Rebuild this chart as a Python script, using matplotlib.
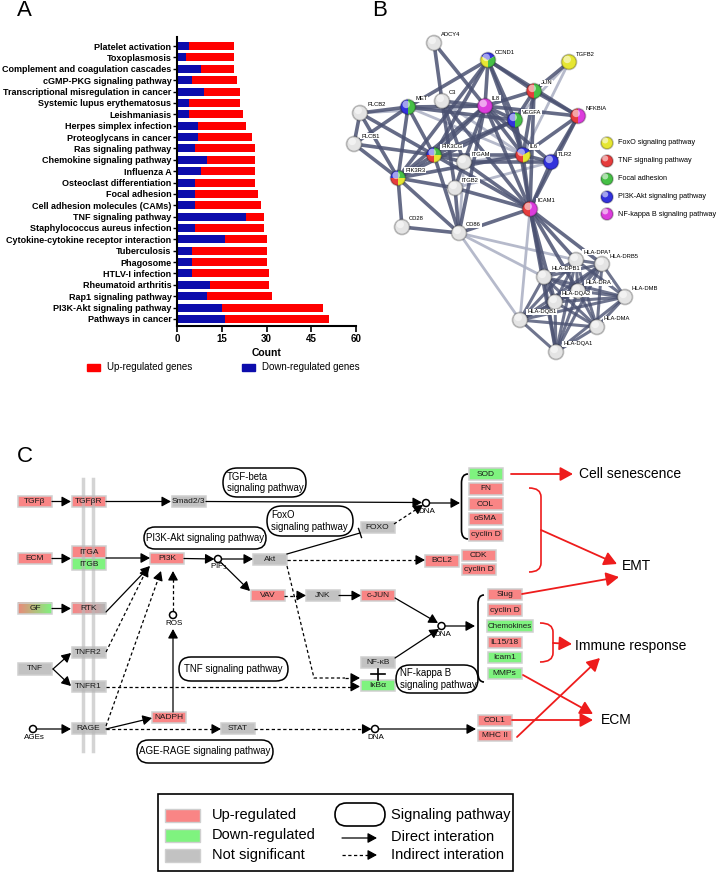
import numpy as np
import matplotlib
matplotlib.use("Agg")
import matplotlib.pyplot as plt
from matplotlib.colors import to_rgb
from matplotlib.patches import (Rectangle, Circle, Wedge, FancyArrowPatch,
                                FancyBboxPatch, PathPatch)
from matplotlib.path import Path
from itertools import combinations

plt.rcParams["font.family"] = ["Liberation Sans", "DejaVu Sans"]

# ---------------- Panel A data (top to bottom) ----------------
pathways = ["Platelet activation", "Toxoplasmosis",
            "Complement and coagulation cascades", "cGMP-PKG signaling pathway",
            "Transcriptional misregulation in cancer", "Systemic lupus erythematosus",
            "Leishmaniasis", "Herpes simplex infection", "Proteoglycans in cancer",
            "Ras signaling pathway", "Chemokine signaling pathway", "Influenza A",
            "Osteoclast differentiation", "Focal adhesion",
            "Cell adhesion molecules (CAMs)", "TNF signaling pathway",
            "Staphylococcus aureus infection", "Cytokine-cytokine receptor interaction",
            "Tuberculosis", "Phagosome", "HTLV-I infection", "Rheumatoid arthritis",
            "Rap1 signaling pathway", "PI3K-Akt signaling pathway", "Pathways in cancer"]
down_genes = [4, 3, 8, 5, 9, 4, 4, 7, 7, 6, 10, 8, 6, 6, 6, 23, 6, 16, 5, 5, 5, 11, 10, 15, 16]
up_genes = [15, 16, 11, 15, 12, 17, 18, 16, 18, 20, 16, 18, 20, 21, 22, 6, 23, 14, 25, 25, 26, 20, 22, 34, 35]
count_ticks = [0, 15, 30, 45, 60]

# ---------------- Panel B data ----------------
YEL, RED, GRN, BLU, MAG = "#e6e632", "#e63c3c", "#46c046", "#3232dc", "#dc3cdc"
net_nodes = {
    "ADCY4": (434, 43, []), "CCND1": (488, 60, [YEL, BLU, GRN]),
    "TGFB2": (569, 62, [YEL]), "JUN": (534, 91, [RED, GRN]),
    "C3": (442, 101, []), "MET": (408, 107, [BLU, GRN]),
    "PLCB2": (360, 113, []), "IL8": (485, 106, [MAG]),
    "VEGFA": (515, 120, [BLU, GRN]), "NFKBIA": (578, 116, [RED, MAG]),
    "PLCB1": (354, 144, []), "PIK3CG": (434, 155, [RED, BLU, GRN, YEL]),
    "ITGAM": (464, 162, []), "IL6": (523, 155, [RED, BLU, YEL]),
    "TLR2": (551, 162, [BLU]), "PIK3R3": (398, 178, [RED, BLU, GRN, YEL]),
    "ITGB2": (455, 188, []), "ICAM1": (530, 209, [RED, MAG]),
    "CD28": (402, 227, []), "CD86": (459, 233, []),
    "HLA-DPA1": (576, 260, []), "HLA-DRB5": (602, 264, []),
    "HLA-DPB1": (544, 277, []), "HLA-DRA": (578, 291, []),
    "HLA-DMB": (625, 297, []), "HLA-DQA2": (555, 302, []),
    "HLA-DQB1": (520, 320, []), "HLA-DMA": (597, 327, []),
    "HLA-DQA1": (556, 352, []),
}
strong_edges = [
    ("ADCY4", "C3"), ("ADCY4", "IL8"), ("CCND1", "MET"), ("CCND1", "JUN"),
    ("CCND1", "IL8"), ("CCND1", "VEGFA"), ("CCND1", "NFKBIA"), ("CCND1", "IL6"),
    ("CCND1", "PIK3CG"), ("CCND1", "PIK3R3"), ("TGFB2", "JUN"), ("JUN", "IL8"),
    ("JUN", "NFKBIA"), ("JUN", "IL6"), ("JUN", "VEGFA"), ("JUN", "ICAM1"),
    ("NFKBIA", "IL8"), ("NFKBIA", "TLR2"), ("NFKBIA", "IL6"), ("NFKBIA", "ICAM1"),
    ("MET", "PIK3CG"), ("MET", "PIK3R3"), ("MET", "VEGFA"), ("MET", "IL8"),
    ("MET", "PLCB1"), ("PLCB2", "PLCB1"), ("PLCB2", "PIK3CG"), ("PLCB2", "PIK3R3"),
    ("PLCB1", "PIK3R3"), ("PLCB1", "PIK3CG"), ("C3", "ITGAM"), ("C3", "ITGB2"),
    ("C3", "IL8"), ("C3", "ICAM1"), ("IL8", "IL6"), ("IL8", "VEGFA"),
    ("IL8", "ICAM1"), ("IL8", "TLR2"), ("IL8", "ITGAM"), ("IL8", "PIK3CG"),
    ("IL8", "CD86"), ("IL8", "PIK3R3"), ("VEGFA", "IL6"), ("VEGFA", "PIK3CG"),
    ("VEGFA", "ICAM1"), ("VEGFA", "PIK3R3"), ("PIK3CG", "PIK3R3"), ("PIK3CG", "ITGAM"),
    ("PIK3CG", "IL6"), ("PIK3CG", "ICAM1"), ("PIK3CG", "CD86"), ("PIK3R3", "CD28"),
    ("PIK3R3", "IL6"), ("PIK3R3", "ITGB2"), ("PIK3R3", "CD86"), ("ITGAM", "ITGB2"),
    ("ITGAM", "ICAM1"), ("ITGAM", "TLR2"), ("ITGB2", "ICAM1"), ("ITGB2", "CD86"),
    ("IL6", "TLR2"), ("IL6", "ICAM1"), ("TLR2", "ICAM1"), ("ICAM1", "CD86"),
    ("ICAM1", "HLA-DPA1"), ("ICAM1", "HLA-DPB1"), ("ICAM1", "HLA-DRA"),
    ("ICAM1", "HLA-DQA1"), ("ICAM1", "HLA-DRB5"), ("ICAM1", "HLA-DQA2"),
    ("CD28", "CD86"), ("MET", "PLCB2"),
]
faint_edges = [("TGFB2", "IL6"), ("TGFB2", "VEGFA"), ("ICAM1", "HLA-DQB1"),
               ("CD86", "HLA-DQB1"), ("CD86", "HLA-DPB1"), ("CD86", "HLA-DPA1"),
               ("PLCB2", "IL8"), ("C3", "IL6"), ("ITGAM", "IL6"), ("CD86", "ITGAM"),
               ("ITGB2", "TLR2"), ("MET", "IL6")]
hla_nodes = ["HLA-DPA1", "HLA-DRB5", "HLA-DPB1", "HLA-DRA", "HLA-DMB",
             "HLA-DQA2", "HLA-DQB1", "HLA-DMA", "HLA-DQA1"]
net_legend = [("FoxO signaling pathway", YEL), ("TNF signaling pathway", RED),
              ("Focal adhesion", GRN), ("PI3K-Akt signaling pathway", BLU),
              ("NF-kappa B signaling pathway", MAG)]

# ---------------- Panel C data ----------------
UP, DOWN, NS = "#f98585", "#7ff37f", "#c2c2c2"
genes = [("TGFβ", 35, 501.5, UP), ("TGFβR", 88.5, 501.5, UP), ("Smad2/3", 188.5, 501.5, NS),
         ("ECM", 35, 558.5, UP), ("ITGA", 88.5, 552, UP), ("ITGB", 88.5, 564, DOWN),
         ("PI3K", 167, 558.5, UP), ("Akt", 270, 559.5, NS), ("VAV", 267.5, 595.5, UP),
         ("JNK", 322.5, 595.5, NS), ("c-JUN", 378, 595.5, UP), ("FOXO", 377.5, 527.5, NS),
         ("BCL2", 441.5, 561, UP), ("CDK", 478.5, 555.5, UP), ("cyclin D", 478.5, 569.5, UP),
         ("SOD", 485.5, 474, DOWN), ("FN", 485.5, 489, UP), ("COL", 485.5, 504, UP),
         ("αSMA", 485.5, 519, UP), ("cyclin D", 485.5, 535, UP),
         ("TNF", 35, 669, NS), ("TNFR2", 88.5, 652.5, NS), ("TNFR1", 88.5, 686.5, NS),
         ("RAGE", 88.5, 728.5, NS), ("NADPH", 169, 717.5, UP), ("STAT", 237.5, 728.5, NS),
         ("NF-κB", 378, 662.5, NS), ("IκBα", 378, 685.5, DOWN),
         ("Slug", 505, 594.5, UP), ("cyclin D", 505, 610, UP), ("IL15/18", 504.5, 642.5, UP),
         ("Icam1", 504.5, 657.5, DOWN), ("MMPs", 504.5, 673.5, DOWN),
         ("COL1", 495, 720.5, UP), ("MHC II", 495, 735.5, UP)]
pathway_labels = [("TGF-beta\nsignaling pathway", 223, 468, 306, 497, "left"),
                  ("PI3K-Akt signaling pathway", 144, 527, 266, 549, "center"),
                  ("FoxO\nsignaling pathway", 267, 506, 353, 536, "left"),
                  ("TNF signaling pathway", 179, 657, 288, 681, "center"),
                  ("NF-kappa B\nsignaling pathway", 396, 665, 478, 693, "left"),
                  ("AGE-RAGE signaling pathway", 137, 740, 273, 763, "center")]
outcomes = [("Cell senescence", 579, 474), ("EMT", 622, 566),
            ("Immune response", 575, 646), ("ECM", 601, 720)]

fig = plt.figure(figsize=(7.17, 8.74), dpi=100)
ax = fig.add_axes([0, 0, 1, 1])
ax.set_xlim(0, 717)
ax.set_ylim(874, 0)
ax.axis("off")

for lab, x, y in [("A", 17, 10), ("B", 372, 10), ("C", 17, 456)]:
    ax.text(x, y, lab, fontsize=16, ha="left", va="center")

# ---------------- Panel A ----------------
axA = fig.add_axes([177 / 717, 1 - 326 / 874, 179 / 717, 289 / 874])
axA.patch.set_alpha(0)
ypos = np.arange(len(pathways))[::-1]
axA.barh(ypos, down_genes, height=0.7, color="#0c0cac")
axA.barh(ypos, up_genes, left=down_genes, height=0.7, color="#ff0000")
axA.set_xlim(0, 60)
axA.set_ylim(-0.62, 24.8)
axA.set_xticks(count_ticks)
axA.set_xticklabels([str(t) for t in count_ticks], fontsize=7, fontweight="bold")
axA.set_yticks(ypos)
axA.set_yticklabels(pathways, fontsize=6.5, fontweight="bold")
axA.tick_params(axis="y", length=3, width=1, pad=1)
axA.tick_params(axis="x", length=4, width=1.2, pad=2)
for s in ["top", "right"]:
    axA.spines[s].set_visible(False)
for s in ["left", "bottom"]:
    axA.spines[s].set_linewidth(1.5)
axA.set_xlabel("Count", fontsize=7.5, fontweight="bold", labelpad=3)

ax.add_patch(Rectangle((87, 364), 13, 7, color="#ff0000"))
ax.text(107, 367.5, "Up-regulated genes", fontsize=7, va="center")
ax.add_patch(Rectangle((242, 364), 13, 7, color="#0c0cac"))
ax.text(262, 367.5, "Down-regulated genes", fontsize=7, va="center")

# ---------------- Panel B ----------------
def edge(a, b, color, lw, alpha):
    xa, ya, _ = net_nodes[a]
    xb, yb, _ = net_nodes[b]
    ax.plot([xa, xb], [ya, yb], color=color, lw=lw, alpha=alpha,
            solid_capstyle="butt", zorder=1)

for a, b in faint_edges:
    edge(a, b, "#aeb3c6", 2.0, 0.9)
for a, b in strong_edges:
    edge(a, b, "#4b5272", 2.6, 0.85)
for a, b in combinations(hla_nodes, 2):
    edge(a, b, "#4b5272", 2.2, 0.8)


def sphere(x, y, cols, r=7.5):
    if not cols:
        ax.add_patch(Circle((x, y), r, fc="#e4e4e4", ec="none", zorder=3))
    else:
        n = len(cols)
        for i, c in enumerate(cols):
            ax.add_patch(Wedge((x, y), r, 90 + i * 360 / n, 90 + (i + 1) * 360 / n,
                               fc=c, ec="none", zorder=3))
    ax.add_patch(Circle((x, y), r, fc="none", ec="#00000040", lw=1.2, zorder=3.1))
    ax.add_patch(Circle((x - 1.8, y - 2.6), r * 0.5, fc="white", alpha=0.55,
                        ec="none", zorder=3.2))


for name, (x, y, cols) in net_nodes.items():
    sphere(x, y, cols)
    ax.text(x + 7, y - 8, name, fontsize=4.2, ha="left", va="center", zorder=4,
            bbox=dict(fc="white", ec="none", pad=0.6))

for i, (lab, col) in enumerate(net_legend):
    yy = [143, 161, 179, 197, 214][i]
    sphere(607, yy, [col], r=6)
    ax.text(618, yy, lab, fontsize=5.2, va="center")

# ---------------- Panel C ----------------
EDGE = "#cfcfcf"


def gbox(text, cx, cy, color, w=34, h=11.5, fs=6):
    ax.add_patch(Rectangle((cx - w / 2, cy - h / 2), w, h, fc=color, ec=EDGE,
                           lw=1.1, zorder=2))
    ax.text(cx, cy, text, fontsize=fs, ha="center", va="center", color="#1a1a1a", zorder=5)


def grad_box(text, cx, cy, c0, c1, w=34, h=11.5):
    c0, c1 = np.array(to_rgb(c0)), np.array(to_rgb(c1))
    t = np.linspace(0, 1, 60)[None, :, None]
    ax.imshow(c0 + (c1 - c0) * t, extent=(cx - w / 2, cx + w / 2, cy + h / 2, cy - h / 2),
              aspect="auto", zorder=2, interpolation="bilinear")
    ax.add_patch(Rectangle((cx - w / 2, cy - h / 2), w, h, fc="none", ec=EDGE,
                           lw=1.1, zorder=2.1))
    ax.text(cx, cy, text, fontsize=6, ha="center", va="center", color="#1a1a1a", zorder=5)


for g in genes:
    gbox(*g)
gbox("Chemokines", 510, 626, DOWN, w=46, fs=5.8)
grad_box("GF", 35, 608.5, "#e98a7a", "#7ff37f")
grad_box("RTK", 88.5, 608.5, "#f98585", "#b4b4b4")

# membrane lines
for xm in [83, 93]:
    ax.plot([xm, xm], [479, 751], color="#b8b8b8", lw=2.5, alpha=0.6, zorder=4)


def arrow(p0, p1, dashed=False, color="k", lw=0.9, ms=10):
    p0, p1 = np.array(p0, float), np.array(p1, float)
    u = (p1 - p0) / np.hypot(*(p1 - p0))
    style = "-|>,head_length=0.55,head_width=0.3"
    if dashed:
        hb = p1 - u * ms * 0.55 * 1.389
        ax.plot([p0[0], hb[0]], [p0[1], hb[1]], color=color, lw=lw,
                ls=(0, (2.6, 2)), zorder=3)
        ax.add_patch(FancyArrowPatch(tuple(hb - u), tuple(p1), arrowstyle=style,
                                     mutation_scale=ms, lw=lw, color=color,
                                     shrinkA=0, shrinkB=0, zorder=3))
    else:
        ax.add_patch(FancyArrowPatch(tuple(p0), tuple(p1), arrowstyle=style,
                                     mutation_scale=ms, lw=lw, color=color,
                                     shrinkA=0, shrinkB=0, zorder=3))


def node_circle(x, y, label=None, dy=8.5):
    ax.add_patch(Circle((x, y), 3.5, fc="white", ec="k", lw=1.1, zorder=4))
    if label:
        ax.text(x + 1, y + dy, label, fontsize=5.8, ha="center", va="center", zorder=5)


# solid arrows
arrow((52, 501.5), (71, 501.5))
arrow((106, 501.5), (171, 501.5))
arrow((206, 501.5), (422, 502.5))
arrow((429.5, 503), (460, 503))
arrow((52, 558.5), (71, 558.5))
arrow((106, 558), (150, 558))
arrow((52, 608.5), (71, 608.5))
arrow((106, 612), (150, 566))
arrow((184, 558.5), (214.5, 559))
arrow((221.5, 559), (253, 559))
arrow((220.5, 562), (250, 591))
arrow((339, 595.5), (361, 595.5))
arrow((395, 598), (438, 623))
arrow((395, 658), (439, 629))
arrow((445, 626), (475, 626))
arrow((53, 669), (71, 653))
arrow((53, 669), (71, 686))
arrow((173, 712), (173, 629))
arrow((106, 729), (152, 718))
arrow((36.5, 729), (71, 729))
arrow((378.5, 729), (476, 729))
# dashed arrows
arrow((284, 595.5), (306, 595.5), dashed=True)
arrow((394, 524), (423, 505), dashed=True)
arrow((287, 560), (425, 560), dashed=True)
arrow((106, 686.5), (360, 686.5), dashed=True)
arrow((106, 652), (148, 567), dashed=True)
arrow((106, 726), (161, 571), dashed=True)
arrow((173, 611), (173, 571), dashed=True)
arrow((106, 729), (221, 729), dashed=True)
arrow((254, 729), (371.5, 729), dashed=True)
ax.plot([287, 314, 345], [566, 678, 678], color="k", lw=0.9, ls=(0, (2.6, 2)), zorder=3)
arrow((345, 678), (360, 678), dashed=True)

# Akt -| FOXO
ax.plot([287, 360], [554, 533], color="k", lw=0.9, zorder=3)
ax.plot([358.5, 361.5], [528.5, 537.5], color="k", lw=1.0, zorder=3)

# NF-kB + IkBa
ax.plot([371, 385], [674, 674], color="k", lw=1.2, zorder=3)
ax.plot([378, 378], [668.5, 679.5], color="k", lw=1.2, zorder=3)

node_circle(218, 559, "PIP$_3$", dy=8)
node_circle(426, 503, "DNA")
node_circle(441.5, 626, "DNA")
node_circle(375, 729, "DNA")
node_circle(33, 729, "AGEs")
node_circle(173, 615, "ROS")


def bracket(xt, xm, y0, y1, color, lw=1.2):
    r = min(9, (y1 - y0) / 4)
    verts = [(xt, y0), (xm, y0), (xm, y0 + r), (xm, y1 - r), (xm, y1), (xt, y1)]
    codes = [Path.MOVETO, Path.CURVE3, Path.CURVE3, Path.LINETO, Path.CURVE3, Path.CURVE3]
    ax.add_patch(PathPatch(Path(verts, codes), fc="none", ec=color, lw=lw, zorder=3))


bracket(468, 461.5, 474, 539, "k")
bracket(484, 478, 595, 682, "k")
RED_C = "#ee1c1c"
bracket(529, 541, 488, 572, RED_C)
bracket(540, 553, 623, 662, RED_C)

# red arrows
for p0, p1 in [((511, 474), (573, 474)), ((541, 530), (617, 564)),
               ((522, 594), (619, 577)), ((553, 643), (572, 644)),
               ((523, 675), (593, 714)), ((512, 720), (593, 720)),
               ((517, 737), (600, 658))]:
    arrow(p0, p1, color=RED_C, lw=1.3, ms=14)

for txt, x, y in outcomes:
    ax.text(x, y, txt, fontsize=10, ha="left", va="center")

for txt, x0, y0, x1, y1, ha in pathway_labels:
    h = y1 - y0
    ax.add_patch(FancyBboxPatch((x0, y0), x1 - x0, h,
                                boxstyle=f"round,pad=0,rounding_size={h / 2}",
                                fc="white", ec="k", lw=1.1, zorder=2))
    if ha == "left":
        ax.text(x0 + 4, (y0 + y1) / 2, txt, fontsize=6.9, ha="left", va="center",
                linespacing=1.15, zorder=5)
    else:
        ax.text((x0 + x1) / 2, (y0 + y1) / 2, txt, fontsize=7, ha="center",
                va="center", zorder=5)

# legend C
ax.add_patch(Rectangle((158, 794), 355, 77, fc="white", ec="k", lw=1.2))
for yy, col, lab in [(815.5, UP, "Up-regulated"), (835.5, DOWN, "Down-regulated"),
                     (855, NS, "Not significant")]:
    ax.add_patch(Rectangle((165, yy - 6.5), 35, 13, fc=col, ec=EDGE, lw=1))
    ax.text(212, yy, lab, fontsize=10.5, va="center")
ax.add_patch(FancyBboxPatch((335, 803), 50, 23, boxstyle="round,pad=0,rounding_size=11.5",
                            fc="white", ec="k", lw=1.2))
ax.text(391, 815, "Signaling pathway", fontsize=10.5, va="center")
arrow((342, 838), (377, 838))
ax.text(391, 837, "Direct interation", fontsize=10.5, va="center")
arrow((342, 855), (377, 855), dashed=True)
ax.text(391, 855, "Indirect interation", fontsize=10.5, va="center")

ax.set_xlim(0, 717)
ax.set_ylim(874, 0)
fig.savefig("out.png", dpi=100)
